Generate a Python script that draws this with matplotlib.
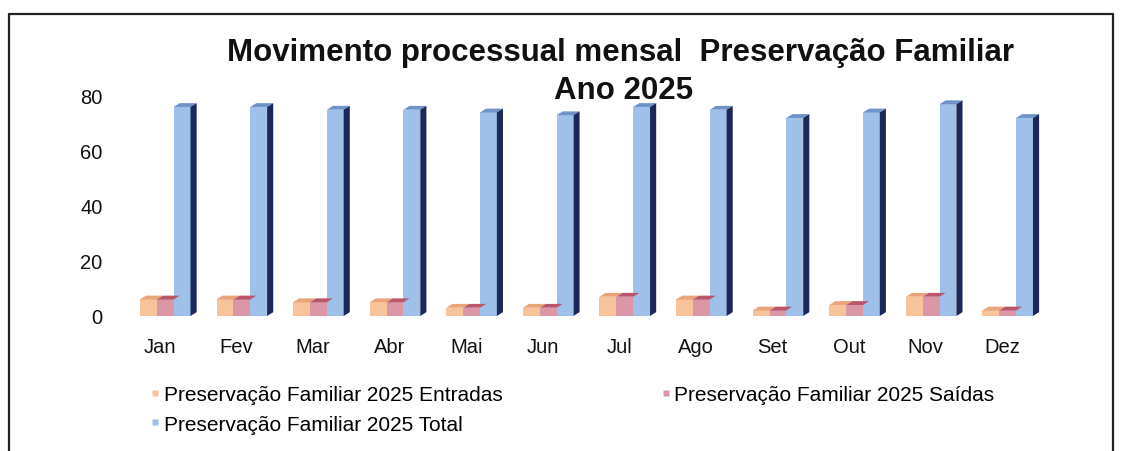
import numpy as np
import matplotlib
matplotlib.use('Agg')
import matplotlib.pyplot as plt
from matplotlib.lines import Line2D

# data
months = ['Jan', 'Fev', 'Mar', 'Abr', 'Mai', 'Jun', 'Jul', 'Ago', 'Set', 'Out', 'Nov', 'Dez']
entradas = [6, 6, 5, 5, 3, 3, 7, 6, 2, 4, 7, 2]
saidas = [6, 6, 5, 5, 3, 3, 7, 6, 2, 4, 7, 2]
total = [76, 76, 75, 75, 74, 73, 76, 75, 72, 74, 77, 72]

series = [
    ('Preservação Familiar 2025 Entradas', entradas, '#f6c39b', '#e9a47a', '#d98f66'),
    ('Preservação Familiar 2025 Saídas', saidas, '#dc97a6', '#b9566a', '#a3475a'),
    ('Preservação Familiar 2025 Total', total, '#9fc0e8', '#6f93c9', '#1d2858'),
]

plt.rcParams['font.family'] = ['Liberation Sans', 'DejaVu Sans']

fig = plt.figure(figsize=(11.22, 4.52), dpi=100)
ax = fig.add_axes([0.0913, 0.2926, 0.843, 0.5111])

x = np.arange(len(months))
w = 0.22
dx = 0.08   # depth offset of the fake 3d faces
dy = 1.4

for k, (name, vals, front, top, side) in enumerate(series):
    xs = x + (k - 1) * w - w / 2 + 0.07
    ax.bar(xs, vals, width=w, align='edge', color=front, edgecolor='none', zorder=2)
    for xl, h in zip(xs, vals):
        # top face
        ax.fill([xl, xl + w, xl + w + dx, xl + dx], [h, h, h + dy, h + dy],
                color=top, lw=0, zorder=3)
        # right side face (only the last bar in a group shows it)
        if k == len(series) - 1:
            ax.fill([xl + w, xl + w + dx, xl + w + dx, xl + w], [0, dy, h + dy, h],
                    color=side, lw=0, zorder=3)

ax.set_xlim(-0.75, 11.6)
ax.set_ylim(-1, 83)
ax.set_yticks([0, 20, 40, 60, 80])
ax.set_xticks(x)
ax.set_xticklabels(months)
ax.tick_params(axis='both', length=0, labelsize=14.5, colors='#111111')
ax.tick_params(axis='x', pad=13)
ax.tick_params(axis='y', pad=0)
for s in ax.spines.values():
    s.set_visible(False)

fig.text(0.553, 0.882, 'Movimento processual mensal  Preservação Familiar',
         ha='center', va='center', fontsize=22.5, fontweight='bold', color='#111111')
fig.text(0.556, 0.799, 'Ano 2025', ha='center', va='center',
         fontsize=22.5, fontweight='bold', color='#111111')

handles = [Line2D([], [], ls='none', marker='s', markersize=5,
                  markerfacecolor=s[2], markeredgecolor='none') for s in series]
labels = [s[0] for s in series]
# column-major fill: put Total second so it lands under Entradas
fig.legend([handles[0], handles[2], handles[1]], [labels[0], labels[2], labels[1]],
           ncol=2, loc='upper left', bbox_to_anchor=(0.1265, 0.164),
           frameon=False, fontsize=15, handlelength=0.5, handletextpad=0.15,
           columnspacing=7.6, labelspacing=0.5, borderaxespad=0)

# outer frame of the scanned chart
fig.add_artist(plt.Line2D([0.008, 0.008, 0.992, 0.992], [0.0, 0.967, 0.967, 0.0],
                          color='#222222', lw=1.6, transform=fig.transFigure))

fig.savefig('out.png', dpi=100, facecolor='white')
